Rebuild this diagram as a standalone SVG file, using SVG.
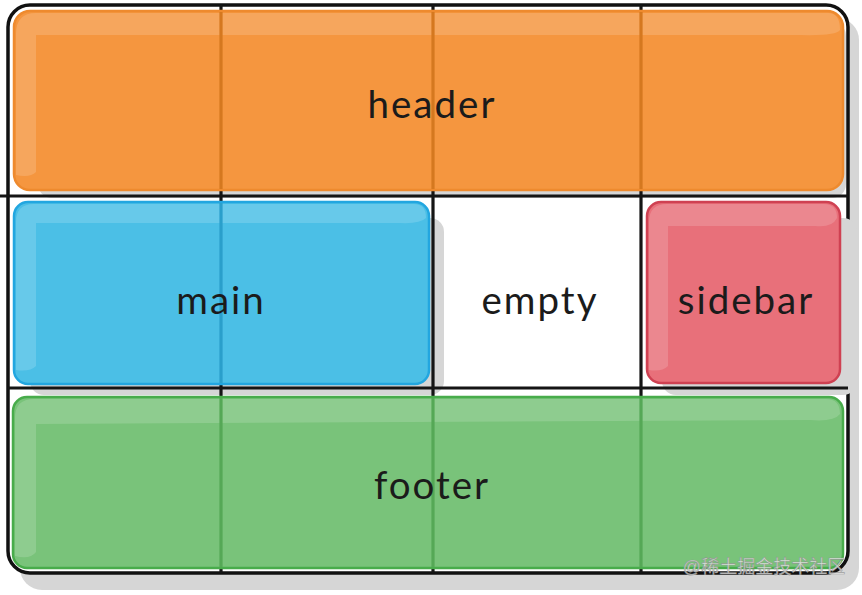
<svg xmlns="http://www.w3.org/2000/svg" width="862" height="595" viewBox="0 0 862 595">
<style>
.shadow{fill:#d6d6d6}
.grid{stroke:#151515;stroke-width:3.2;fill:none}
.gv{stroke-width:3.2;fill:none}
.hl{fill:#fff;fill-opacity:0.16}
.lbl{font-family:Lato,"Noto Sans",sans-serif;font-size:38.5px;fill:#1b1b1b;text-anchor:middle;letter-spacing:2px}
</style>
<rect width="862" height="595" fill="#fff"/>
<rect class="shadow" x="20" y="18" width="839" height="572" rx="22"/>
<rect x="8" y="5" width="840" height="568" rx="22" fill="#fff" stroke="#111" stroke-width="3.5"/>
<g id="shadows">
<rect class="shadow" x="38" y="22" width="808" height="176" rx="14"/>
<rect class="shadow" x="30" y="218" width="414" height="177" rx="14"/>
<rect class="shadow" x="662" y="218" width="195" height="177" rx="14"/>
</g>
<g id="grid">
<line class="grid" x1="221" y1="5" x2="221" y2="573"/>
<line class="grid" x1="433" y1="5" x2="433" y2="573"/>
<line class="grid" x1="641" y1="5" x2="641" y2="573"/>
<line class="grid" x1="0" y1="196" x2="848" y2="196"/>
<line class="grid" x1="8" y1="388" x2="848" y2="388"/>
</g>
<g id="header">
<rect x="14" y="11" width="829" height="179" rx="16" fill="#F5963F" stroke="#EE8A2E" stroke-width="2.5"/>
<path class="hl" d="M16,34 Q16,13 36,13 L828,13 Q840,13 840,30 Q836,36 800,35 L36,35 L36,172 Q30,178 16,175 Z"/>
<g class="gv" stroke="#D5781F">
<line x1="221" y1="12" x2="221" y2="189"/>
<line x1="433" y1="12" x2="433" y2="189"/>
<line x1="641" y1="12" x2="641" y2="189"/>
</g>
<text class="lbl" x="432" y="118">header</text>
</g>
<g id="main">
<rect x="14" y="202" width="415" height="182" rx="14" fill="#4BBFE6" stroke="#22A6E0" stroke-width="2.5"/>
<path class="hl" d="M16,222 Q16,204 34,204 L414,204 Q426,204 426,218 Q420,224 400,223 L36,223 L36,366 Q30,372 16,370 Z"/>
<line class="gv" stroke="#2A9FCB" x1="221" y1="203" x2="221" y2="383"/>
<text class="lbl" x="221" y="314">main</text>
</g>
<g id="empty">
<text class="lbl" x="540" y="314">empty</text>
</g>
<g id="sidebar">
<rect x="647" y="202" width="193" height="181" rx="14" fill="#E8707A" stroke="#CF4152" stroke-width="2.5"/>
<path class="hl" d="M649,222 Q649,204 667,204 L824,204 Q837,204 837,218 Q832,228 815,226 L668,226 L668,366 Q662,372 649,370 Z"/>
<text class="lbl" x="746" y="314">sidebar</text>
</g>
<g id="footer">
<rect x="13" y="397" width="830" height="171" rx="14" fill="#79C37A" stroke="#48AC4B" stroke-width="2.5"/>
<path class="hl" d="M15,418 Q15,399 34,399 L826,399 Q840,399 840,414 Q834,422 810,420 L36,424 L36,552 Q30,560 15,556 Z"/>
<g class="gv" stroke="#55A856">
<line x1="221" y1="398" x2="221" y2="567"/>
<line x1="433" y1="398" x2="433" y2="567"/>
<line x1="641" y1="398" x2="641" y2="567"/>
</g>
<text class="lbl" x="432" y="499">footer</text>
</g>
<text x="764" y="573" font-family="'Liberation Sans','Noto Sans CJK SC',sans-serif" font-size="18" fill="#f0f0f0" fill-opacity="0.8" stroke="#8a8a8a" stroke-width="0.7" stroke-opacity="0.75" text-anchor="middle">@稀土掘金技术社区</text>
</svg>
